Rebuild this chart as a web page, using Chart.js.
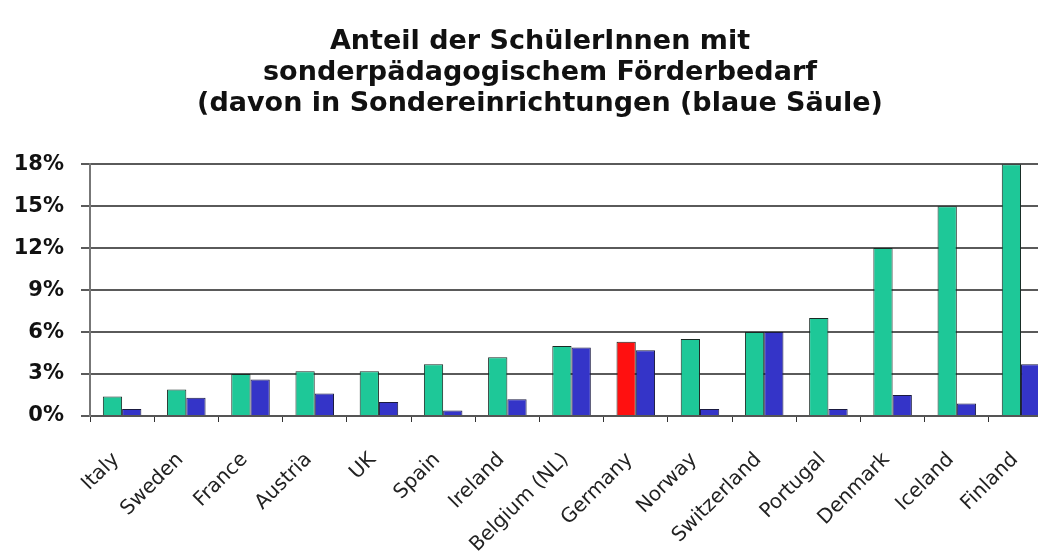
<!DOCTYPE html>
<html>
<head>
<meta charset="utf-8">
<script src="https://cdn.jsdelivr.net/npm/chart.js@4"></script>
<style>
  html, body { margin: 0; padding: 0; background: #fff; overflow: hidden; }
  #wrap { width: 1038px; height: 560px; overflow: hidden; }
  canvas { display: block; }
</style>
</head>
<body>
<div id="wrap"><canvas id="c" width="1064" height="560"></canvas></div>
<script>
// Countries, ordered by total share of pupils with special educational needs
const countries = ['Italy', 'Sweden', 'France', 'Austria', 'UK', 'Spain', 'Ireland',
  'Belgium (NL)', 'Germany', 'Norway', 'Switzerland', 'Portugal', 'Denmark', 'Iceland', 'Finland'];

// Share of pupils with special educational needs (%)
const totalShare = [1.4, 1.9, 3.0, 3.2, 3.2, 3.7, 4.2, 5.0, 5.3, 5.5, 6.0, 7.0, 12.0, 15.0, 18.0];

// Of those, share taught in special schools (%)
const specialSchoolShare = [0.5, 1.3, 2.6, 1.6, 1.0, 0.4, 1.2, 4.9, 4.7, 0.5, 6.0, 0.5, 1.5, 0.9, 3.7];

// Y axis tick values (%)
const yTicks = [0, 3, 6, 9, 12, 15, 18];

const titleLines = [
  'Anteil der SchülerInnen mit',
  'sonderpädagogischem Förderbedarf',
  '(davon in Sondereinrichtungen (blaue Säule)'
];

const green = '#1ec898';
const blue = '#3434c8';
const red = '#ff1010';

// Let the y tick labels draw past the narrow axis box instead of being clipped to it
const unclipYLabels = {
  id: 'unclipYLabels',
  beforeDraw(chart) {
    chart.scales.y._computeLabelArea = () => undefined;
  }
};

new Chart(document.getElementById('c'), {
  type: 'bar',
  plugins: [unclipYLabels],
  data: {
    labels: countries,
    datasets: [
      {
        data: totalShare,
        backgroundColor: countries.map(c => c === 'Germany' ? red : green),
        borderColor: '#1a2a24',
        borderWidth: 1,
        categoryPercentage: 0.6,
        barPercentage: 1.0
      },
      {
        data: specialSchoolShare,
        backgroundColor: blue,
        borderColor: '#1a1a40',
        borderWidth: 1,
        categoryPercentage: 0.6,
        barPercentage: 1.0
      }
    ]
  },
  options: {
    responsive: false,
    animation: false,
    layout: { padding: { left: 16, right: 0, top: 0, bottom: 0 } },
    plugins: {
      legend: { display: false },
      tooltip: { enabled: false },
      title: {
        display: true,
        text: titleLines,
        color: '#111',
        font: { family: 'DejaVu Sans', size: 27, weight: 'bold', lineHeight: 1.15 },
        padding: { top: 26, bottom: 45 }
      }
    },
    scales: {
      x: {
        grid: {
          offset: true,
          drawOnChartArea: false,
          drawTicks: true,
          tickLength: 6,
          color: '#333',
          lineWidth: 1
        },
        border: { display: true, color: '#555', width: 2 },
        ticks: {
          color: '#222',
          maxRotation: 45,
          minRotation: 45,
          autoSkip: false,
          padding: 26,
          labelOffset: -6,
          font: { family: 'DejaVu Sans', size: 20 }
        },
        afterFit: s => { s.height = 144; }
      },
      y: {
        min: 0,
        max: 18,
        afterBuildTicks: s => { s.ticks = yTicks.map(v => ({ value: v })); },
        grid: {
          color: '#5a5a5a',
          lineWidth: 2,
          tickLength: 9
        },
        border: { display: true, color: '#777', width: 2 },
        ticks: {
          color: '#111',
          padding: 17,
          font: { family: 'DejaVu Sans', size: 21, weight: 'bold' },
          callback: v => v + '%'
        },
        afterFit: s => { s.width = 74; }
      }
    }
  }
});
</script>
</body>
</html>
